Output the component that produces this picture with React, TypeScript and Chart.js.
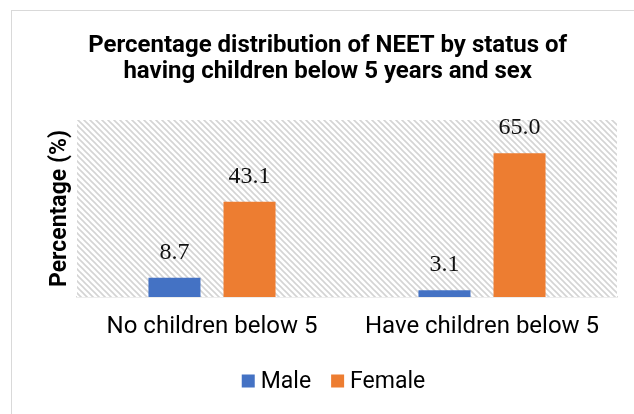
import React, { useEffect, useRef } from "react";
import { Chart, registerables } from "chart.js";

Chart.register(...registerables);

// Chart content
const categories = ["No children below 5", "Have children below 5"];
const seriesNames = ["Male", "Female"];
const maleValues = [8.7, 3.1];
const femaleValues = [43.1, 65.0];
const titleLines = [
  "Percentage distribution of NEET by status of",
  "having children below 5 years and sex",
];
const yAxisTitle = "Percentage (%)";

const MALE_COLOR = "#4472C4";
const FEMALE_COLOR = "#ED7D31";

// Diagonal hatch tile used behind the bars
function makeHatch(ctx: CanvasRenderingContext2D): CanvasPattern | string {
  const size = 6;
  const tile = document.createElement("canvas");
  tile.width = size;
  tile.height = size;
  const t = tile.getContext("2d");
  if (!t) return "#ffffff";
  t.fillStyle = "#ffffff";
  t.fillRect(0, 0, size, size);
  t.strokeStyle = "#d4d4d4";
  t.lineWidth = 1.6;
  t.beginPath();
  t.moveTo(-1, -1);
  t.lineTo(size + 1, size + 1);
  t.moveTo(-1, size - 1);
  t.lineTo(1, size + 1);
  t.moveTo(size - 1, -1);
  t.lineTo(size + 1, 1);
  t.stroke();
  return ctx.createPattern(tile, "repeat") || "#ffffff";
}

const hatchPlugin = {
  id: "hatchBackground",
  beforeDatasetsDraw(chart: any) {
    const { ctx, chartArea } = chart;
    ctx.save();
    ctx.fillStyle = makeHatch(ctx);
    ctx.fillRect(
      chartArea.left,
      chartArea.top,
      chartArea.right - chartArea.left,
      chartArea.bottom - chartArea.top
    );
    ctx.restore();
  },
};

// Value printed above each bar
const valueLabelPlugin = {
  id: "valueLabels",
  afterDatasetsDraw(chart: any) {
    const { ctx } = chart;
    ctx.save();
    ctx.font = "24px 'Liberation Serif', 'Times New Roman', serif";
    ctx.fillStyle = "#111111";
    ctx.textAlign = "center";
    ctx.textBaseline = "alphabetic";
    chart.data.datasets.forEach((ds: any, di: number) => {
      const meta = chart.getDatasetMeta(di);
      meta.data.forEach((bar: any, i: number) => {
        const v = ds.data[i] as number;
        ctx.fillText(v.toFixed(1), bar.x, bar.y - 19);
      });
    });
    ctx.restore();
  },
};

// Compact legend row under the axis labels
const legendRowPlugin = {
  id: "legendRow",
  afterDraw(chart: any) {
    const { ctx } = chart;
    const box = 13;
    const boxGap = 6;
    const itemGap = 20;
    const centerX = 333.5;
    const centerY = 381;
    ctx.save();
    ctx.font = "23px Roboto";
    ctx.textBaseline = "middle";
    ctx.textAlign = "left";
    const items = chart.data.datasets.map((ds: any) => ({
      label: ds.label as string,
      color: ds.backgroundColor as string,
      w: box + boxGap + ctx.measureText(ds.label).width,
    }));
    const total =
      items.reduce((s: number, it: any) => s + it.w, 0) + itemGap * (items.length - 1);
    let x = centerX - total / 2;
    items.forEach((it: any) => {
      ctx.fillStyle = it.color;
      ctx.fillRect(x, centerY - box / 2, box, box);
      ctx.fillStyle = "#000000";
      ctx.fillText(it.label, x + box + boxGap, centerY + 1);
      x += it.w + itemGap;
    });
    ctx.restore();
  },
};

export default function App() {
  const canvasRef = useRef<HTMLCanvasElement | null>(null);

  useEffect(() => {
    if (!canvasRef.current) return;
    const chart = new Chart(canvasRef.current, {
      type: "bar",
      data: {
        labels: categories,
        datasets: [
          {
            label: seriesNames[0],
            data: maleValues,
            backgroundColor: MALE_COLOR,
            barPercentage: 0.693,
            categoryPercentage: 0.556,
          },
          {
            label: seriesNames[1],
            data: femaleValues,
            backgroundColor: FEMALE_COLOR,
            barPercentage: 0.693,
            categoryPercentage: 0.556,
          },
        ],
      },
      options: {
        responsive: false,
        animation: false,
        devicePixelRatio: 1,
        layout: { padding: { top: 10, bottom: 57, left: 38.4, right: 17 } },
        scales: {
          x: {
            grid: { display: false, drawTicks: false, tickLength: 0 },
            border: { display: true, color: "#d9d9d9", width: 1.5 },
            ticks: {
              color: "#000000",
              font: { family: "Roboto", size: 24 },
              padding: 15.6,
            },
          },
          y: {
            min: 0,
            max: 80,
            grid: { display: false, drawTicks: false, tickLength: 0 },
            border: { display: false },
            ticks: { display: false },
            title: {
              display: true,
              text: yAxisTitle,
              color: "#000000",
              font: { family: "Roboto", size: 23, weight: "bold" },
              padding: { top: 8, bottom: 3 },
            },
          },
        },
        plugins: {
          title: {
            display: true,
            text: titleLines,
            color: "#000000",
            font: { family: "Roboto", size: 24, weight: "bold", lineHeight: 26 / 24 },
            padding: { top: 22.5, bottom: 35.5 },
          },
          legend: { display: false },
          tooltip: { enabled: false },
        },
      },
      plugins: [hatchPlugin, valueLabelPlugin, legendRowPlugin],
    });
    return () => chart.destroy();
  }, []);

  return (
    <div
      style={{
        position: "fixed",
        left: 0,
        top: 0,
        width: 634,
        height: 414,
        overflow: "hidden",
        background: "#ffffff",
      }}
    >
      <div
        style={{
          position: "absolute",
          left: 11,
          top: 10,
          width: 700,
          height: 500,
          border: "1px solid #d9d9d9",
          boxSizing: "border-box",
        }}
      />
      <canvas
        ref={canvasRef}
        width={634}
        height={414}
        style={{ position: "absolute", left: 0, top: 0, width: 634, height: 414 }}
      />
    </div>
  );
}
